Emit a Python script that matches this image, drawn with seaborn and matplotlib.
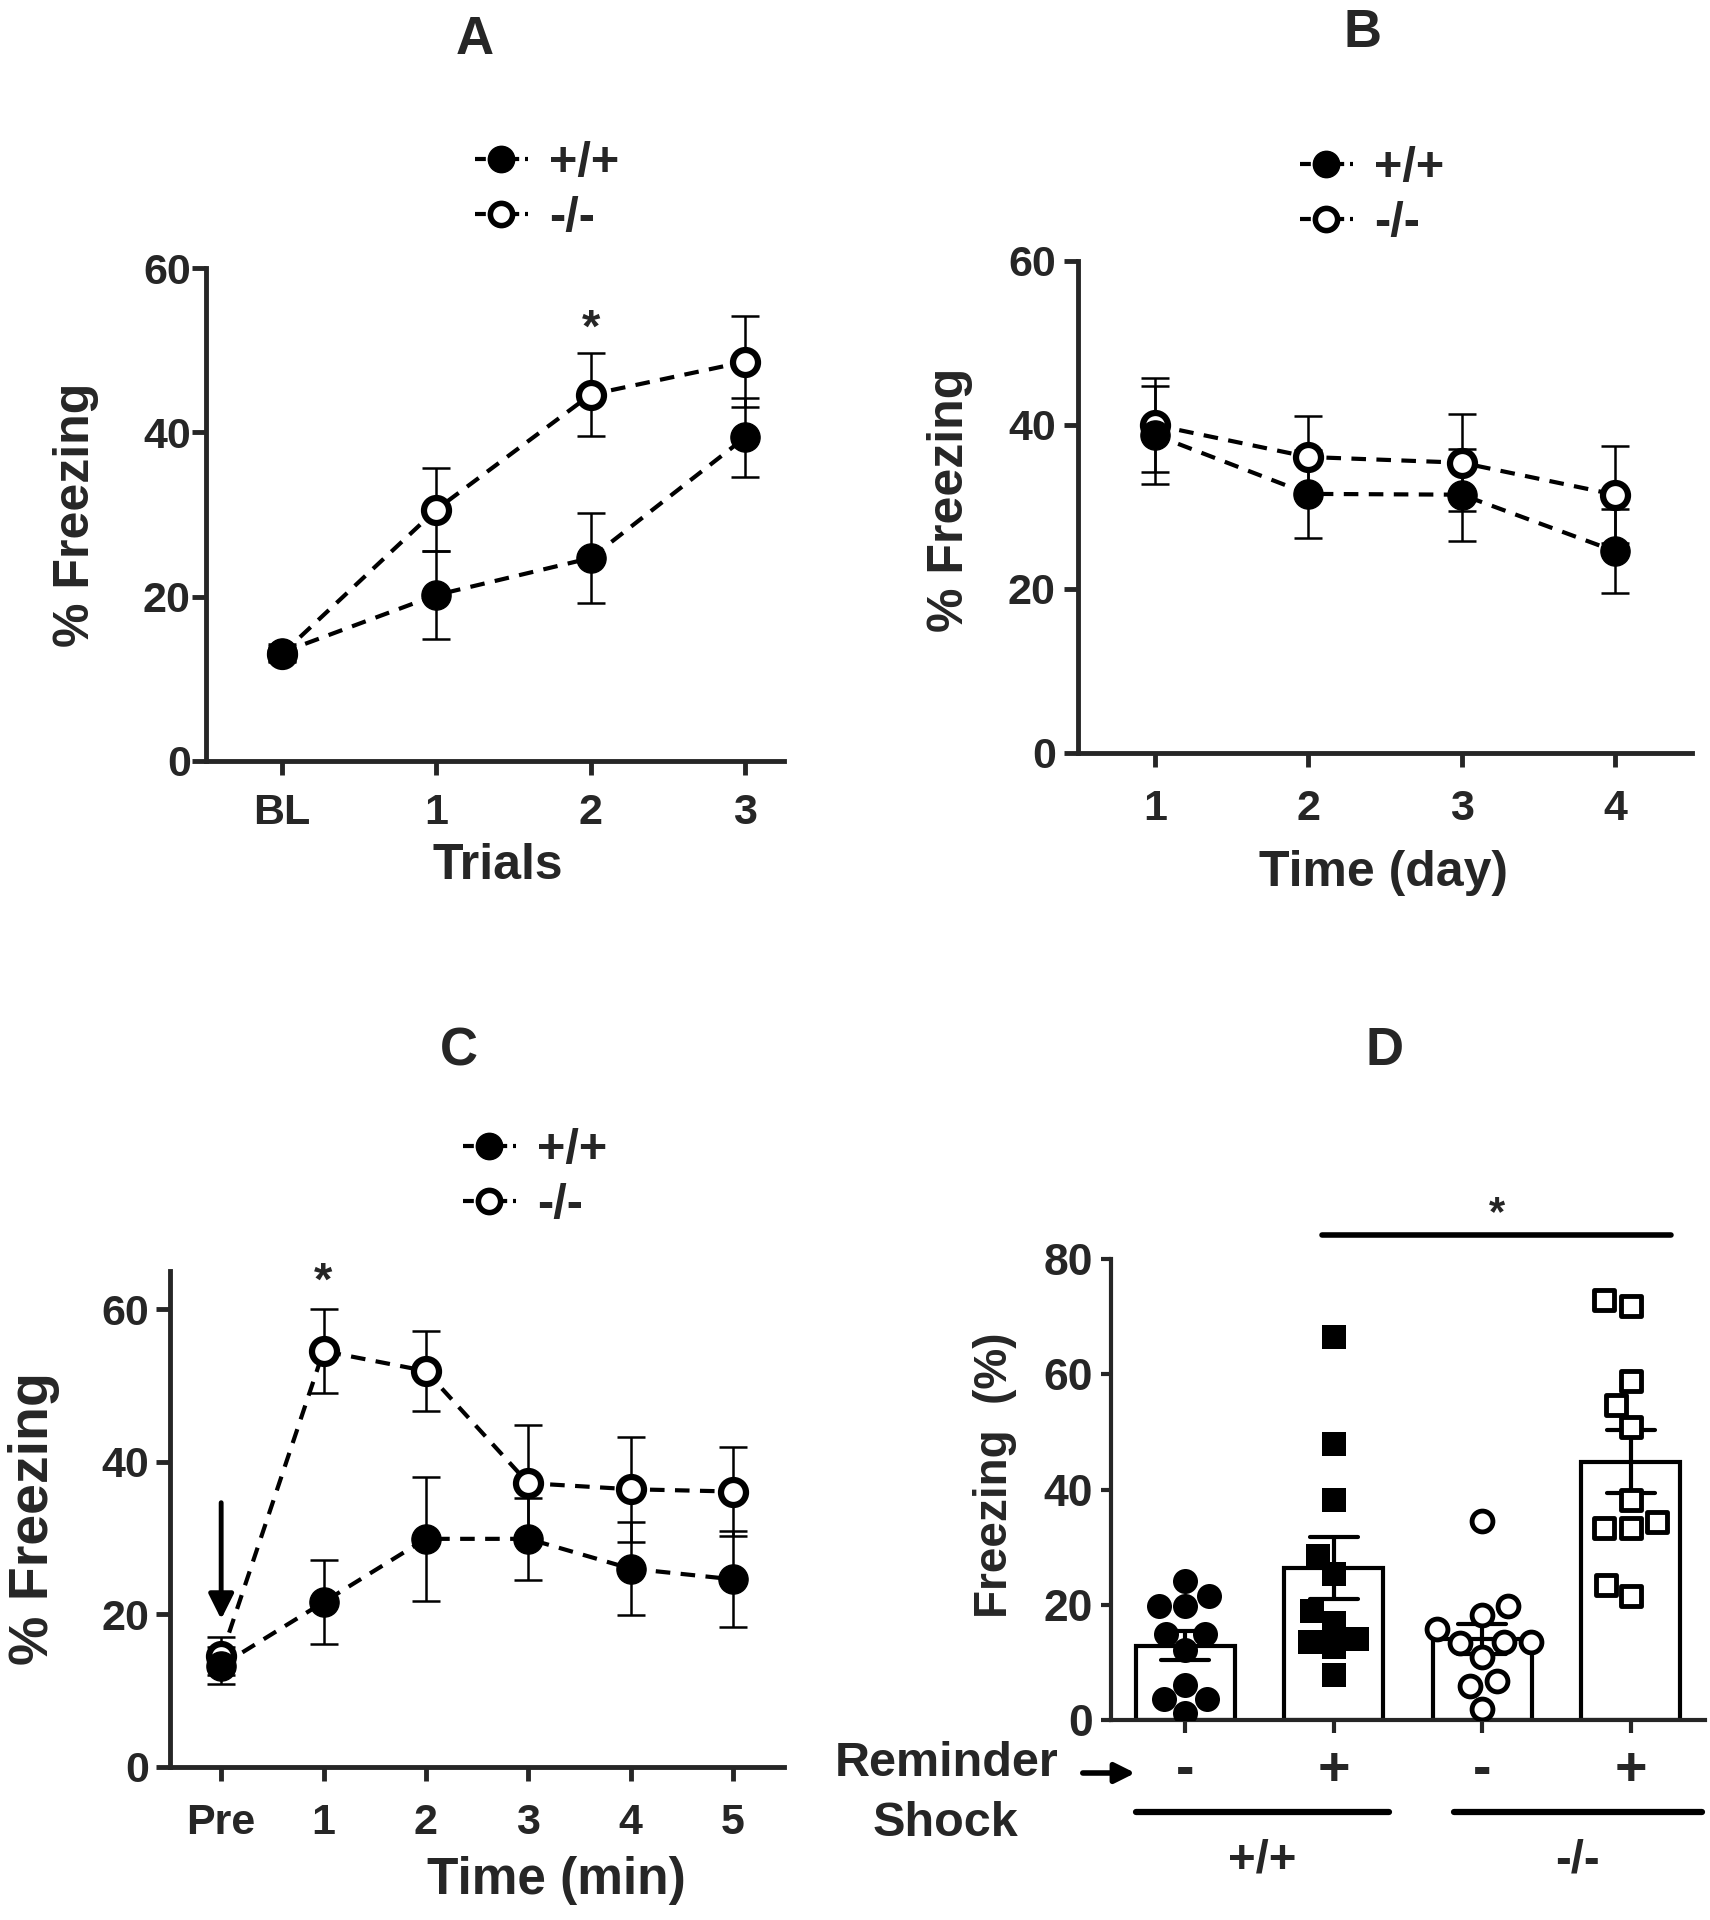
import matplotlib
matplotlib.use("Agg")
import matplotlib.pyplot as plt
import matplotlib.transforms as mtransforms
from matplotlib import font_manager
from matplotlib.lines import Line2D
import numpy as np
import pandas as pd
import seaborn as sns

# ---- data ----
# A: acquisition
trials = ["BL", "1", "2", "3"]
a_wt_mean = [13.2, 20.2, 24.7, 39.4]
a_wt_sem = [1.0, 5.3, 5.5, 4.8]
a_ko_mean = [13.0, 30.6, 44.6, 48.6]
a_ko_sem = [1.0, 5.1, 5.0, 5.5]

# B: recall over days
days = ["1", "2", "3", "4"]
b_wt_mean = [38.8, 31.6, 31.5, 24.6]
b_wt_sem = [6.0, 5.4, 5.6, 5.1]
b_ko_mean = [40.0, 36.1, 35.4, 31.5]
b_ko_sem = [5.7, 5.0, 5.9, 5.9]

# C: reminder shock session
minutes = ["Pre", "1", "2", "3", "4", "5"]
c_wt_mean = [13.3, 21.6, 29.9, 29.9, 26.0, 24.6]
c_wt_sem = [2.4, 5.5, 8.1, 5.4, 6.1, 6.3]
c_ko_mean = [14.5, 54.5, 51.9, 37.2, 36.4, 36.1]
c_ko_sem = [2.5, 5.5, 5.2, 7.6, 6.9, 5.8]

# D: individual animals
d_groups = ["+/+ no shock", "+/+ shock", "-/- no shock", "-/- shock"]
d_tick_labels = ["-", "+", "-", "+"]
d_wt_noshock = [21.5, 19.8, 19.8, 24.2, 15.0, 15.0, 12.1, 3.7, 3.7, 6.0, 1.2]
d_wt_shock = [66.4, 47.9, 38.1, 28.5, 25.4, 18.9, 16.9, 14.0, 13.6, 12.7, 7.8]
d_ko_noshock = [34.5, 18.3, 19.8, 15.8, 13.6, 13.6, 13.3, 10.9, 6.8, 5.9, 1.9]
d_ko_shock = [72.9, 71.9, 58.9, 54.6, 50.9, 38.1, 33.3, 33.3, 34.4, 23.5, 21.6]
d_values = [d_wt_noshock, d_wt_shock, d_ko_noshock, d_ko_shock]

# ---- style ----
sns.set_style("ticks")
installed = {f.name for f in font_manager.fontManager.ttflist}
MAIN = "Liberation Sans" if "Liberation Sans" in installed else "DejaVu Sans"
NARROW = "Liberation Sans Narrow" if "Liberation Sans Narrow" in installed else MAIN
plt.rcParams["font.family"] = [MAIN, "DejaVu Sans"]
plt.rcParams["font.weight"] = "bold"
plt.rcParams["axes.labelweight"] = "bold"

W, H = 1710, 1920
fig = plt.figure(figsize=(W / 100, H / 100), dpi=100)
DASH = (0, (3.5, 2.5))


def px_axes(left, top, right, bottom):
    return fig.add_axes([left / W, 1 - bottom / H, (right - left) / W, (bottom - top) / H])


def style_axes(ax, lw=3.5, tick_len=10, xpad=13, ypad=2, size=31):
    sns.despine(ax=ax)
    for s in ("left", "bottom"):
        ax.spines[s].set_linewidth(lw)
    ax.tick_params(axis="both", width=lw, length=tick_len, direction="out", labelsize=size)
    ax.tick_params(axis="x", pad=xpad)
    ax.tick_params(axis="y", pad=ypad)


def draw_series(ax, labels, mean, sem, filled):
    df = pd.DataFrame({"x": np.arange(len(labels)), "y": mean})
    ax.errorbar(df["x"], df["y"], yerr=sem, fmt="none", ecolor="black",
                elinewidth=1.8, capsize=10, capthick=1.8, zorder=2)
    sns.lineplot(data=df, x="x", y="y", ax=ax, color="black", linestyle=DASH,
                 linewidth=3, marker="o",
                 markersize=21 if filled else 18,
                 markerfacecolor="black" if filled else "white",
                 markeredgecolor="black",
                 markeredgewidth=1 if filled else 4.5,
                 zorder=4 if filled else 3, legend=False)


def add_legend(ax, x_px, y_px, size=35):
    handles = [
        Line2D([], [], color="black", linestyle=(0, (2.6, 1.4)), lw=3, marker="o",
               markersize=19, markerfacecolor="black", markeredgecolor="black"),
        Line2D([], [], color="black", linestyle=(0, (2.6, 1.4)), lw=3, marker="o",
               markersize=16, markerfacecolor="white", markeredgecolor="black",
               markeredgewidth=4),
    ]
    ax.legend(handles, ["+/+", "-/-"], loc="center left",
              bbox_to_anchor=(x_px / W, 1 - y_px / H), bbox_transform=fig.transFigure,
              frameon=False, fontsize=size, handlelength=1.08, handletextpad=0.45,
              labelspacing=0.2, borderpad=0, borderaxespad=0)


# ---- A ----
ax_a = px_axes(206, 268, 784, 761)
draw_series(ax_a, trials, a_ko_mean, a_ko_sem, filled=False)
draw_series(ax_a, trials, a_wt_mean, a_wt_sem, filled=True)
ax_a.set_xlim(-0.49, 3.25)
ax_a.set_ylim(0, 60)
ax_a.set_yticks([0, 20, 40, 60])
ax_a.set_xticks(range(len(trials)), labels=trials)
style_axes(ax_a, xpad=13, ypad=1)
ax_a.set_xlabel("Trials", fontsize=36)
ax_a.set_ylabel("% Freezing", fontsize=36)
ax_a.xaxis.label.set_va("center")
ax_a.yaxis.label.set_va("center")
ax_a.xaxis.set_label_coords(0.505, -0.213)
ax_a.yaxis.set_label_coords(-0.225, 0.5)
ax_a.text(2, 52.5, "*", ha="center", va="center", fontsize=34)
add_legend(ax_a, 475, 191)

# ---- B ----
ax_b = px_axes(1078, 261, 1692, 753)
draw_series(ax_b, days, b_ko_mean, b_ko_sem, filled=False)
draw_series(ax_b, days, b_wt_mean, b_wt_sem, filled=True)
ax_b.set_xlim(-0.5, 3.5)
ax_b.set_ylim(0, 60)
ax_b.set_yticks([0, 20, 40, 60])
ax_b.set_xticks(range(len(days)), labels=days)
style_axes(ax_b, xpad=16, ypad=6)
ax_b.set_xlabel("Time (day)", fontsize=36)
ax_b.set_ylabel("% Freezing", fontsize=36)
ax_b.xaxis.label.set_va("center")
ax_b.yaxis.label.set_va("center")
ax_b.xaxis.set_label_coords(0.498, -0.244)
ax_b.yaxis.set_label_coords(-0.208, 0.514)
add_legend(ax_b, 1300, 196)

# ---- C ----
ax_c = px_axes(170, 1271, 784, 1767)
draw_series(ax_c, minutes, c_wt_mean, c_wt_sem, filled=True)
draw_series(ax_c, minutes, c_ko_mean, c_ko_sem, filled=False)
ax_c.set_xlim(-0.5, 5.5)
ax_c.set_ylim(0, 65)
ax_c.set_yticks([0, 20, 40, 60])
ax_c.set_xticks(range(len(minutes)), labels=minutes)
style_axes(ax_c, xpad=16, ypad=5)
ax_c.set_xlabel("Time (min)", fontsize=37)
ax_c.set_ylabel("% Freezing", fontsize=40)
ax_c.xaxis.label.set_va("center")
ax_c.yaxis.label.set_va("center")
ax_c.xaxis.set_label_coords(0.63, -0.228)
ax_c.yaxis.set_label_coords(-0.221, 0.5)
ax_c.text(1, 63.5, "*", ha="center", va="center", fontsize=34, clip_on=False)
ax_c.annotate("", xy=(0, 19.0), xytext=(0, 35.0),
              arrowprops=dict(arrowstyle="-|>", color="black", lw=3.5, mutation_scale=38))
add_legend(ax_c, 463, 1178)

# ---- D ----
ax_d = px_axes(1111, 1259, 1705, 1720)
d_df = pd.DataFrame({
    "group": np.repeat(d_groups, [len(v) for v in d_values]),
    "freezing": np.concatenate(d_values),
})
sns.barplot(data=d_df, x="group", y="freezing", order=d_groups, errorbar="se",
            color="white", edgecolor="black", linewidth=3, width=0.67,
            capsize=0.32, err_kws={"color": "black", "linewidth": 3}, ax=ax_d)
d_markers = ["o", "s", "o", "s"]
d_filled = [True, True, False, False]
for g, mk, filled in zip(d_groups, d_markers, d_filled):
    sub = d_df[d_df["group"] == g]
    if filled:
        sns.swarmplot(data=sub, x="group", y="freezing", order=d_groups, marker=mk,
                      size=18 if mk == "o" else 17, color="black", linewidth=0, ax=ax_d)
    else:
        sns.swarmplot(data=sub, x="group", y="freezing", order=d_groups, marker=mk,
                      size=15, color="white", edgecolor="black", linewidth=3.5, ax=ax_d)
ax_d.set_xlim(-0.5, 3.5)
ax_d.set_ylim(0, 80)
ax_d.set_yticks([0, 20, 40, 60, 80])
ax_d.set_xticks(range(len(d_groups)), labels=d_tick_labels)
style_axes(ax_d, lw=3, tick_len=7, xpad=9, ypad=6, size=32)
ax_d.tick_params(axis="x", length=9, labelsize=40)
for lab in ax_d.get_yticklabels():
    lab.set_family(NARROW)
ax_d.set_xlabel("")
ax_d.set_ylabel("Freezing  (%)", fontsize=33)
ax_d.yaxis.label.set_va("center")
ax_d.yaxis.set_label_coords(-0.195, 0.53)

# significance bar
ax_d.plot([0.92, 3.27], [84.2, 84.2], color="black", lw=4, clip_on=False)
ax_d.text(2.1, 87.8, "*", ha="center", va="center", fontsize=30, clip_on=False)

# genotype bars under the axis
blend = mtransforms.blended_transform_factory(ax_d.transData, ax_d.transAxes)
ax_d.plot([-0.33, 1.37], [-0.2, -0.2], color="black", lw=4.5, transform=blend, clip_on=False)
ax_d.plot([1.81, 3.48], [-0.2, -0.2], color="black", lw=4.5, transform=blend, clip_on=False)
ax_d.text(0.52, -0.304, "+/+", transform=blend, ha="center", va="center", fontsize=34, family=NARROW)
ax_d.text(2.64, -0.304, "-/-", transform=blend, ha="center", va="center", fontsize=34, family=NARROW)

fig.text(947 / W, 1 - 1764 / H, "Reminder", ha="center", va="center", fontsize=35, family=NARROW)
fig.text(945 / W, 1 - 1823 / H, "Shock", ha="center", va="center", fontsize=35, family=NARROW)
fig.patches.append(matplotlib.patches.FancyArrowPatch(
    (1080 / W, 1 - 1773 / H), (1138 / W, 1 - 1773 / H), transform=fig.transFigure,
    arrowstyle="-|>", mutation_scale=30, lw=4, color="black"))

# panel letters
for letter, x, y in [("A", 475, 40), ("B", 1362, 33), ("C", 459, 1051), ("D", 1384, 1051)]:
    fig.text(x / W, 1 - y / H, letter, ha="center", va="center", fontsize=38)

fig.savefig("out.png", dpi=100)
